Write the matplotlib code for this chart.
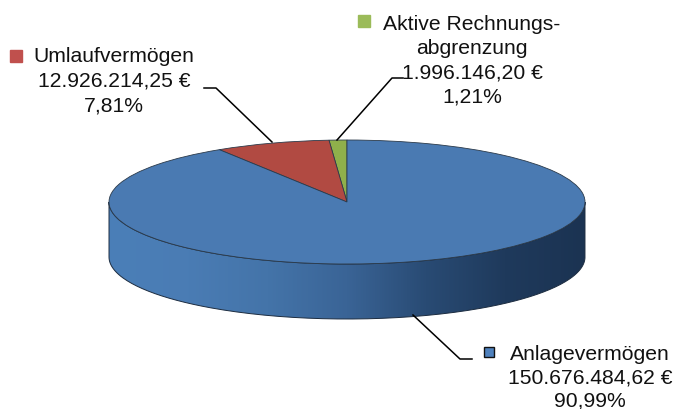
import numpy as np
import matplotlib
matplotlib.use("Agg")
import matplotlib.pyplot as plt
from matplotlib.colors import LinearSegmentedColormap
from matplotlib.patches import PathPatch
from matplotlib.path import Path

plt.rcParams["font.family"] = ["Liberation Sans", "DejaVu Sans"]

# pie data, counterclockwise from 12 o'clock
names = ["Aktive Rechnungsabgrenzung", "Umlaufvermögen", "Anlagevermögen"]
values = [1996146.20, 12926214.25, 150676484.62]
top_colors = ["#8fb04b", "#b14a42", "#4a7ab2"]
wall_colors = ["#4b7fb8", "#4a7cb4", "#4474a9", "#3a6496", "#294b74", "#1f3a5c", "#1b3352"]

W, H = 675, 410
CX, CY, RX, RY = 347, 203, 238, 62
DEPTH = 55


def wall_path():
    # lower half of the ellipse, then back along the same arc moved down
    t = np.linspace(np.pi, 2 * np.pi, 200)
    x = CX + RX * np.cos(t)
    y = CY - RY * np.sin(t)
    xs = np.concatenate([x, x[::-1], x[:1]])
    ys = np.concatenate([y, y[::-1] + DEPTH, y[:1]])
    return Path(np.column_stack([xs, ys]), closed=False)


def label(ax, x, y, lines, dy=24.4):
    for i, line in enumerate(lines):
        ax.text(x, y + i * dy, line, ha="center", va="center", fontsize=15.2, color="#111111")


def main():
    fig = plt.figure(figsize=(W / 100, H / 100), dpi=100)

    # pixel coordinates for the wall, labels and leader lines
    base = fig.add_axes([0, 0, 1, 1])
    base.set_xlim(0, W)
    base.set_ylim(H, 0)
    base.axis("off")

    cmap = LinearSegmentedColormap.from_list("wall", wall_colors)
    img = base.imshow(
        np.linspace(0, 1, 256).reshape(1, -1),
        cmap=cmap,
        extent=[CX - RX, CX + RX, CY + RY + DEPTH, CY],
        aspect="auto",
        zorder=1,
    )
    base.set_xlim(0, W)
    base.set_ylim(H, 0)
    patch = PathPatch(wall_path(), fc="none", ec="none", transform=base.transData)
    base.add_patch(patch)
    img.set_clip_path(patch)
    base.add_patch(PathPatch(wall_path(), fc="none", ec="#1c2c40", lw=0.7, zorder=2))

    # the top of the pie: an ordinary pie in a squashed axes
    top = fig.add_axes([(CX - RX) / W, 1 - (CY + RY) / H, 2 * RX / W, 2 * RY / H])
    top.pie(
        values,
        colors=top_colors,
        startangle=90,
        counterclock=True,
        radius=1.0,
        wedgeprops={"edgecolor": "#2b3a4a", "linewidth": 0.6},
    )
    top.set_aspect("auto")
    top.set_xlim(-1, 1)
    top.set_ylim(-1, 1)
    top.patch.set_alpha(0)
    for w in top.patches:
        w.set_clip_on(False)

    text = fig.add_axes([0, 0, 1, 1])
    text.set_xlim(0, W)
    text.set_ylim(H, 0)
    text.axis("off")

    label(text, 114, 57, ["Umlaufvermögen", "12.926.214,25 €", "7,81%"])
    label(text, 472, 24, ["Aktive Rechnungs-", "abgrenzung", "1.996.146,20 €", "1,21%"], dy=24.3)
    label(text, 590, 355, ["Anlagevermögen", "150.676.484,62 €", "90,99%"], dy=23.2)

    text.plot([204, 216, 272], [89, 89, 143], color="black", lw=1.1)
    text.plot([403, 392, 337], [79, 79, 141], color="black", lw=1.1)
    text.plot([413, 460, 472], [316, 360, 360], color="black", lw=1.1)

    text.plot([16], [57], "s", ms=8, color="#c0504d")
    text.plot([364], [22], "s", ms=8, color="#9bbb59")
    text.plot([489], [353], "s", ms=7.5, mfc="#4f81bd", mec="#111111", mew=1)

    fig.savefig("out.png", dpi=100)


if __name__ == "__main__":
    main()
